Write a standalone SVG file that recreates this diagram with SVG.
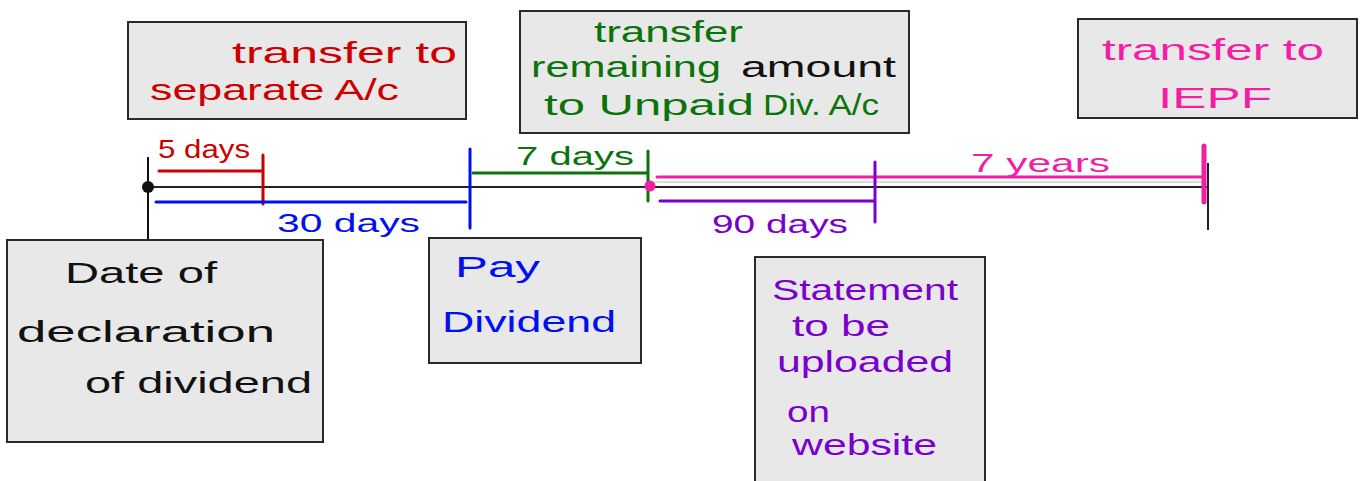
<svg xmlns="http://www.w3.org/2000/svg" width="1365" height="481" viewBox="0 0 1365 481">
<style>
.box{fill:#e8e8e8;stroke:#2a2a2a;stroke-width:2}
text{font-family:"Liberation Sans","Noto Sans",sans-serif;font-size:30px}
.sm{font-size:26px}
.red{fill:#cc0000}.grn{fill:#0a740a}.blu{fill:#0010ee}.pnk{fill:#f21fa5}.pur{fill:#7a00cc}.blk{fill:#111}
.ln{fill:none;stroke-width:3;stroke-linecap:round}
</style>
<rect width="1365" height="481" fill="#fff"/>
<g id="connectors">
  <line x1="148" y1="157" x2="148" y2="240" stroke="#111" stroke-width="2"/>
  <line x1="148" y1="187" x2="1208" y2="187" stroke="#222" stroke-width="2"/>
  <line x1="655" y1="182" x2="1204" y2="182" stroke="#cfcfcf" stroke-width="1.5"/>
  <line x1="1208" y1="163" x2="1208" y2="230" stroke="#222" stroke-width="2"/>
  <circle cx="148" cy="187" r="6" fill="#111"/>
  <path class="ln" stroke="#cc0000" d="M159 171H263M263 155V204"/>
  <path class="ln" stroke="#0010ee" d="M156 202H466M470 149V228"/>
  <path class="ln" stroke="#0a740a" d="M473 173H648M648 151V201"/>
  <path class="ln" stroke="#f21fa5" d="M657 177H1204"/>
  <line x1="1204" y1="146" x2="1204" y2="202" stroke="#f21fa5" stroke-width="5" stroke-linecap="round"/>
  <path class="ln" stroke="#7a00cc" d="M660 201H875M875 162V222"/>
  <circle cx="650" cy="186" r="5.5" fill="#f21fa5"/>
  <text class="sm red" x="158" y="158" textLength="92" lengthAdjust="spacingAndGlyphs">5 days</text>
  <text class="sm blu" x="277" y="232" textLength="143" lengthAdjust="spacingAndGlyphs">30 days</text>
  <text class="sm grn" x="516" y="165" textLength="118" lengthAdjust="spacingAndGlyphs">7 days</text>
  <text class="sm pur" x="712" y="233" textLength="136" lengthAdjust="spacingAndGlyphs">90 days</text>
  <text class="sm pnk" x="971" y="172" textLength="139" lengthAdjust="spacingAndGlyphs">7 years</text>
</g>
<g id="node-separate">
  <rect class="box" x="128" y="22" width="338" height="97"/>
  <text class="red" x="232" y="63" textLength="225" lengthAdjust="spacingAndGlyphs">transfer to</text>
  <text class="red" x="150" y="100" textLength="249" lengthAdjust="spacingAndGlyphs">separate A/c</text>
</g>
<g id="node-unpaid">
  <rect class="box" x="520" y="11" width="389" height="122"/>
  <text class="grn" x="594" y="42" textLength="149" lengthAdjust="spacingAndGlyphs">transfer</text>
  <text class="grn" x="531" y="77" textLength="190" lengthAdjust="spacingAndGlyphs">remaining</text>
  <text class="blk" x="741" y="77" textLength="155" lengthAdjust="spacingAndGlyphs">amount</text>
  <text class="grn" x="544" y="115" textLength="210" lengthAdjust="spacingAndGlyphs">to Unpaid</text>
  <text class="grn" x="763" y="115" textLength="116" lengthAdjust="spacingAndGlyphs">Div. A/c</text>
</g>
<g id="node-iepf">
  <rect class="box" x="1078" y="19" width="279" height="99"/>
  <text class="pnk" x="1102" y="60" textLength="222" lengthAdjust="spacingAndGlyphs">transfer to</text>
  <text class="pnk" x="1158" y="108" textLength="114" lengthAdjust="spacingAndGlyphs">IEPF</text>
</g>
<g id="node-declaration">
  <rect class="box" x="7" y="240" width="316" height="202"/>
  <text class="blk" x="65" y="283" textLength="152" lengthAdjust="spacingAndGlyphs">Date of</text>
  <text class="blk" x="17" y="342" textLength="258" lengthAdjust="spacingAndGlyphs">declaration</text>
  <text class="blk" x="85" y="393" textLength="227" lengthAdjust="spacingAndGlyphs">of dividend</text>
</g>
<g id="node-pay">
  <rect class="box" x="429" y="238" width="212" height="125"/>
  <text class="blu" x="455" y="277" textLength="85" lengthAdjust="spacingAndGlyphs">Pay</text>
  <text class="blu" x="442" y="332" textLength="174" lengthAdjust="spacingAndGlyphs">Dividend</text>
</g>
<g id="node-statement">
  <rect class="box" x="755" y="257" width="230" height="240"/>
  <text class="pur" x="772" y="300" textLength="186" lengthAdjust="spacingAndGlyphs">Statement</text>
  <text class="pur" x="792" y="336" textLength="98" lengthAdjust="spacingAndGlyphs">to be</text>
  <text class="pur" x="777" y="372" textLength="176" lengthAdjust="spacingAndGlyphs">uploaded</text>
  <text class="pur" x="787" y="422" textLength="43" lengthAdjust="spacingAndGlyphs">on</text>
  <text class="pur" x="792" y="455" textLength="145" lengthAdjust="spacingAndGlyphs">website</text>
</g>
</svg>
